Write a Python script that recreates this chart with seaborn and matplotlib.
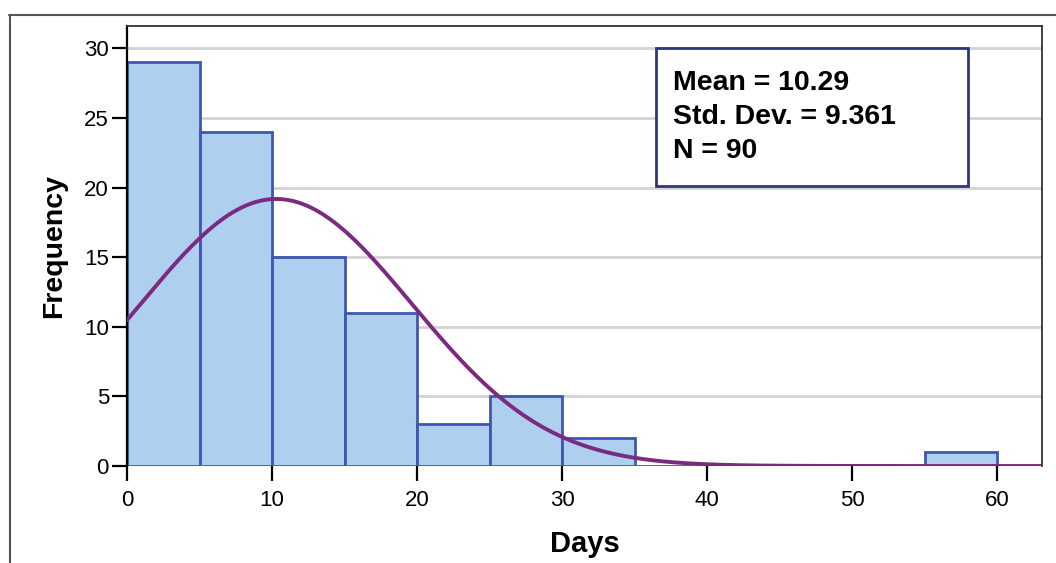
import numpy as np
import pandas as pd
import matplotlib
matplotlib.use("Agg")
import matplotlib.pyplot as plt
import seaborn as sns
from matplotlib.patches import Rectangle
from matplotlib.lines import Line2D

# Histogram of days: bin edges (width 5) and counts per bin
bin_edges = [0, 5, 10, 15, 20, 25, 30, 35, 40, 45, 50, 55, 60]
bin_counts = [29, 24, 15, 11, 3, 5, 2, 0, 0, 0, 0, 1]

# Summary statistics shown in the box
mean_days = 10.29
sd_days = 9.361
n_obs = 90

x_ticks = [0, 10, 20, 30, 40, 50, 60]
y_ticks = [0, 5, 10, 15, 20, 25, 30]

sns.set_theme(style="white")
plt.rcParams["font.family"] = ["Liberation Sans", "DejaVu Sans"]
plt.rcParams["text.color"] = "black"
plt.rcParams["axes.labelcolor"] = "black"
plt.rcParams["xtick.color"] = "black"
plt.rcParams["ytick.color"] = "black"

fig = plt.figure(figsize=(10.56, 5.63), dpi=100)
ax = fig.add_axes([0.1203, 0.1723, 0.8664, 0.7815])

bin_width = bin_edges[1] - bin_edges[0]
centers = [e + bin_width / 2 for e in bin_edges[:-1]]
hist_df = pd.DataFrame({"days": centers, "count": bin_counts})
sns.histplot(data=hist_df, x="days", weights="count", bins=bin_edges, ax=ax,
             color="#aecfee", edgecolor="#3f57b0", linewidth=2.0, alpha=1.0,
             zorder=2)

# Fitted normal curve scaled to counts
x_max = 63.1
xs = np.linspace(0, x_max, 400)
ys = n_obs * bin_width / (sd_days * np.sqrt(2 * np.pi)) * np.exp(-0.5 * ((xs - mean_days) / sd_days) ** 2)
sns.lineplot(x=xs, y=ys, ax=ax, color="#7a2a80", linewidth=2.8, zorder=3)

ax.set_xlim(0, x_max)
ax.set_ylim(0, 31.6)
ax.set_xticks(x_ticks)
ax.set_yticks(y_ticks)
ax.tick_params(axis="both", direction="out", length=11, width=1.6, color="black",
               labelsize=16, left=True, bottom=True)
ax.tick_params(axis="x", pad=6)
ax.tick_params(axis="y", pad=2)
for v in y_ticks[1:]:
    ax.axhline(v, color="#d3d3d3", linewidth=2, zorder=1)

for side in ["top", "right"]:
    ax.spines[side].set_color("#333333")
    ax.spines[side].set_linewidth(1.3)
ax.spines["left"].set_color("black")
ax.spines["left"].set_linewidth(1.6)
ax.spines["bottom"].set_visible(False)

ax.set_xlabel("Days", fontsize=21, fontweight="bold", labelpad=14)
ax.set_ylabel("Frequency", fontsize=20.5, fontweight="bold", labelpad=12)

# Statistics box
ax.add_patch(Rectangle((0.5781, 0.636), 0.3412, 0.314, transform=ax.transAxes,
                       facecolor="white", edgecolor="#2e3580", linewidth=2, zorder=4))
ax.text(0.5967, 0.793, f"Mean = {mean_days:.2f}\nStd. Dev. = {sd_days:.3f}\nN = {n_obs}",
        transform=ax.transAxes, fontsize=20.5, fontweight="bold", va="center",
        ha="left", linespacing=1.38, zorder=5)

# Outer frame lines
fig.add_artist(Line2D([9 / 1056, 1.0], [1 - 14.5 / 563, 1 - 14.5 / 563],
                      transform=fig.transFigure, color="#555555", linewidth=1.5))
fig.add_artist(Line2D([9.5 / 1056, 9.5 / 1056], [0, 1 - 14.5 / 563],
                      transform=fig.transFigure, color="#555555", linewidth=1.5))

fig.savefig("out.png", dpi=100)
